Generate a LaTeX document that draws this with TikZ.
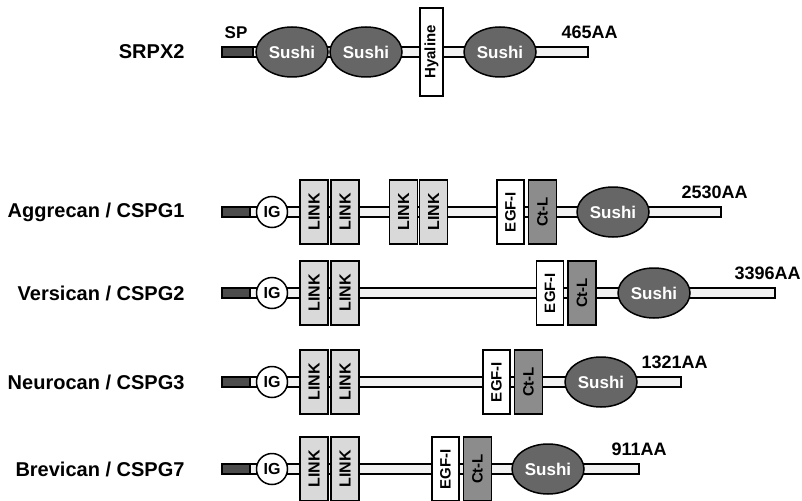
\documentclass[tikz,border=0pt]{standalone}
\usepackage{fontspec}
\setmainfont{Liberation Sans}
\usetikzlibrary{calc,positioning,shapes.geometric}

\definecolor{sushigray}{gray}{0.40}
\definecolor{ctlgray}{gray}{0.55}
\definecolor{linkgray}{gray}{0.85}
\definecolor{spgray}{gray}{0.30}

\tikzset{
    backbone/.style={draw=black,fill=black!5,line width=1.6pt},
    spseg/.style={draw=black,fill=spgray,line width=1.6pt},
    protdom/.style={draw=black,line width=1.5pt,inner sep=0pt,
        font=\bfseries\fontsize{15}{15}\selectfont},
    sushi/.style={protdom,ellipse,fill=sushigray,text=white,
        minimum width=72pt,minimum height=50pt,font=\bfseries\fontsize{17}{17}\selectfont},
    linkbox/.style={protdom,rectangle,fill=linkgray,rotate=90,
        minimum width=64pt,minimum height=28pt,font=\bfseries\fontsize{16}{16}\selectfont},
    egfbox/.style={protdom,rectangle,fill=white,rotate=90,
        minimum width=64pt,minimum height=27pt},
    ctlbox/.style={protdom,rectangle,fill=ctlgray,rotate=90,
        minimum width=64pt,minimum height=28pt},
    hyalbox/.style={protdom,rectangle,fill=white,rotate=90,
        minimum width=88pt,minimum height=23pt},
    igdom/.style={protdom,circle,fill=white,minimum size=31pt,
        font=\bfseries\fontsize{16}{16}\selectfont},
    protein/.style={anchor=east,font=\bfseries\fontsize{20}{20}\selectfont},
    aalabel/.style={anchor=west,font=\bfseries\fontsize{18}{18}\selectfont}
}

\begin{document}
\begin{tikzpicture}[x=1pt,y=-1pt]
    \useasboundingbox (0,0) rectangle (802,500);

    % SRPX2
    \node [protein] (srpx-name) at (188,52) {SRPX2};
    \coordinate (srpx-start) at (222,52);
    \coordinate (srpx-end) at (588,52);
    \draw [backbone] ($(srpx-start)+(0,-5)$) rectangle ($(srpx-end)+(0,5)$);
    \draw [spseg] ($(srpx-start)+(0,-5)$) rectangle ($(srpx-start)+(31,5)$);
    \node [font=\bfseries\fontsize{17}{17}\selectfont] (srpx-sp) at (236,33) {SP};
    \node [sushi] (srpx-sushi1) at (292,52) {Sushi};
    \node [sushi] (srpx-sushi2) at (366,52) {Sushi};
    \node [hyalbox] (srpx-hyal) at (431.5,52) {Hyaline};
    \node [sushi] (srpx-sushi3) at (500,52) {Sushi};
    \node [aalabel] (srpx-aa) at (558,32) {465AA};

    % chondroitin sulfate proteoglycans
    \foreach \r/\y/\e/\egf/\su/\ax/\name/\aa in {
        agg/212/721/510.5/613/678/{Aggrecan / CSPG1}/2530AA,
        ver/293/775/550/654/731/{Versican / CSPG2}/3396AA,
        neu/382/681/496.5/601/638/{Neurocan / CSPG3}/1321AA,
        bre/469/639/445.5/548/608/{Brevican / CSPG7}/911AA}
    {
        \node [protein] (\r-name) at (188,\y) {\name};
        \coordinate (\r-start) at (222,\y);
        \coordinate (\r-end) at (\e,\y);
        \draw [backbone] ($(\r-start)+(0,-5)$) rectangle ($(\r-end)+(0,5)$);
        \draw [spseg] ($(\r-start)+(0,-5)$) rectangle ($(\r-start)+(28,5)$);
        \node [igdom] (\r-ig) at (272,\y) {IG};
        \node [linkbox] (\r-link1) at (314,\y) {LINK};
        \node [linkbox] (\r-link2) at (345,\y) {LINK};
        \node [egfbox] (\r-egf) at (\egf,\y) {EGF-I};
        \node [ctlbox] (\r-ctl) at ($(\r-egf)+(32,0)$) {Ct-L};
        \node [sushi] (\r-sushi) at (\su,\y) {Sushi};
        \node [aalabel] (\r-aa) at (\ax,\y-20) {\aa};
    }
    \node [linkbox] (agg-link3) at (403.5,212) {LINK};
    \node [linkbox] (agg-link4) at (433.5,212) {LINK};
\end{tikzpicture}
\end{document}
